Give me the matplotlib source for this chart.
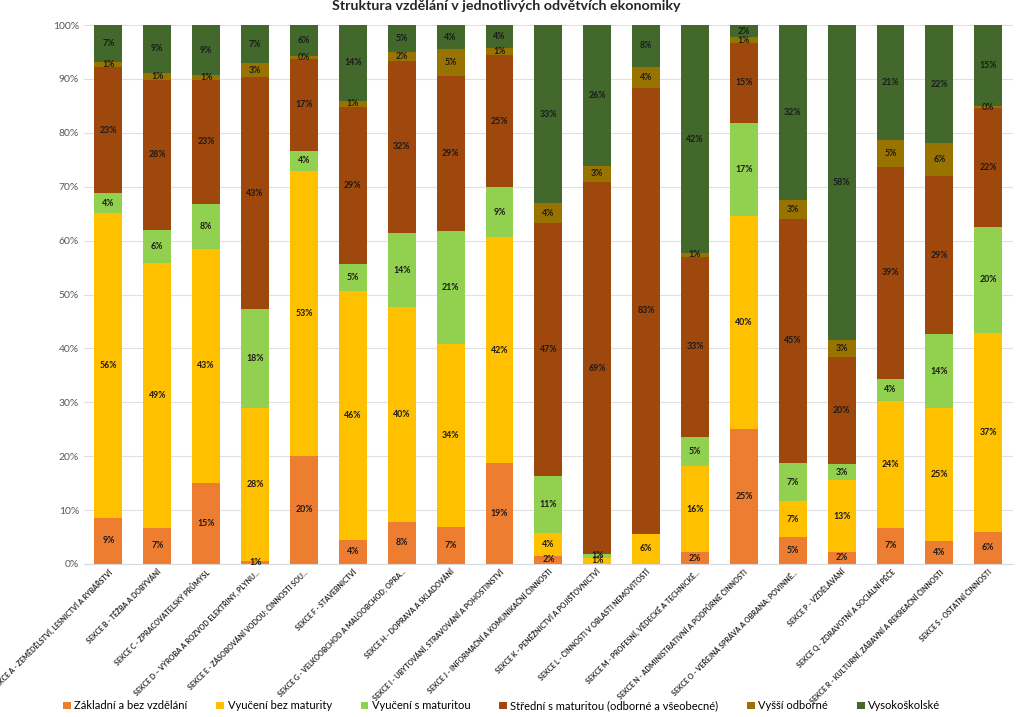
import matplotlib
matplotlib.use('Agg')
import matplotlib.pyplot as plt
import numpy as np

sekce = [
    'SEKCE A - ZEMĚDĚLSTVÍ, LESNICTVÍ A RYBÁŘSTVÍ',
    'SEKCE B - TĚŽBA A DOBÝVÁNÍ',
    'SEKCE C - ZPRACOVATELSKÝ PRŮMYSL',
    'SEKCE D – VÝROBA A ROZVOD ELEKTŘINY, PLYNU...',
    'SEKCE E - ZÁSOBOVÁNÍ VODOU; ČINNOSTI SOU...',
    'SEKCE F - STAVEBNICTVÍ',
    'SEKCE G - VELKOOBCHOD A MALOOBCHOD; OPRA...',
    'SEKCE H - DOPRAVA A SKLADOVÁNÍ',
    'SEKCE I - UBYTOVÁNÍ, STRAVOVÁNÍ A POHOSTINSTVÍ',
    'SEKCE J - INFORMAČNÍ A KOMUNIKAČNÍ ČINNOSTI',
    'SEKCE K - PENĚŽNICTVÍ A POJIŠŤOVNICTVÍ',
    'SEKCE L - ČINNOSTI V OBLASTI NEMOVITOSTÍ',
    'SEKCE M - PROFESNÍ, VĚDECKÉ A TECHNICKÉ...',
    'SEKCE N - ADMINISTRATIVNÍ A PODPŮRNÉ ČINNOSTI',
    'SEKCE O - VEŘEJNÁ SPRÁVA A OBRANA; POVINNÉ...',
    'SEKCE P - VZDĚLÁVÁNÍ',
    'SEKCE Q - ZDRAVOTNÍ A SOCIÁLNÍ PÉČE',
    'SEKCE R - KULTURNÍ, ZÁBAVNÍ A REKREAČNÍ ČINNOSTI',
    'SEKCE S - OSTATNÍ ČINNOSTI',
]

zakladni = [8.6, 6.7, 15.1, 0.6, 20.1, 4.5, 7.8, 6.9, 18.8, 1.5, 0.0, 0.0, 2.2, 25.0, 5.0, 2.3, 6.7, 4.3, 6.0]
vyuceni_bez = [56.5, 49.1, 43.3, 28.4, 52.9, 46.1, 39.9, 34.0, 41.8, 4.2, 1.2, 5.6, 16.0, 39.6, 6.6, 13.2, 23.6, 24.6, 36.8]
vyuceni_s = [3.7, 6.2, 8.4, 18.3, 3.6, 5.1, 13.7, 20.9, 9.3, 10.7, 0.6, 0.0, 5.4, 17.3, 7.1, 3.0, 4.0, 13.7, 19.8]
stredni = [23.4, 27.9, 23.1, 43.0, 17.2, 29.1, 32.0, 28.7, 24.6, 46.9, 69.1, 82.8, 33.4, 14.8, 45.4, 20.0, 39.4, 29.4, 22.1]
vyssi = [0.9, 1.3, 0.8, 2.6, 0.4, 1.2, 1.6, 5.0, 1.3, 3.6, 3.0, 3.9, 0.7, 1.0, 3.4, 3.1, 5.0, 6.1, 0.2]
vysokoskolske = [6.9, 8.8, 9.3, 7.1, 5.8, 14.0, 5.0, 4.5, 4.2, 33.1, 26.1, 7.7, 42.3, 2.3, 32.5, 58.4, 21.3, 21.9, 15.1]

serie = ['Základní a bez vzdělání', 'Vyučení bez maturity', 'Vyučení s maturitou',
         'Střední s maturitou (odborné a všeobecné)', 'Vyšší odborné', 'Vysokoškolské']
hodnoty = [zakladni, vyuceni_bez, vyuceni_s, stredni, vyssi, vysokoskolske]
barvy = ['#ED7D31', '#FFC000', '#92D050', '#9E480E', '#997300', '#43682B']

plt.rcParams['font.family'] = ['Lato', 'DejaVu Sans']

fig = plt.figure(figsize=(10.24, 7.17), dpi=100)
ax = fig.add_axes([0.082, 0.2134, 0.907, 0.7516])

x = np.arange(len(sekce))
dole = np.zeros(len(sekce))
for nazev, val, c in zip(serie, hodnoty, barvy):
    val = np.array(val)
    ax.bar(x, val, bottom=dole, width=0.57, color=c, label=nazev, zorder=2)
    for xi, b, v in zip(x, dole, val):
        if v > 0:
            ax.text(xi, b + v / 2, '%d%%' % round(v), ha='center', va='center',
                    fontsize=6.3, fontweight='bold', color='#1a1a1a', zorder=3)
    dole += val

ax.set_xlim(-0.5, len(sekce) - 0.5)
ax.set_ylim(0, 100)
ax.set_yticks(range(0, 101, 10))
ax.set_yticklabels(['%d%%' % t for t in range(0, 101, 10)], fontsize=7.5, color='#595959')
ax.yaxis.grid(True, color='#E0E0E0', linewidth=0.8, zorder=0)
ax.tick_params(axis='both', length=0)
ax.tick_params(axis='x', pad=3)
ax.set_xticks(x)
ax.set_xticklabels(sekce, rotation=45, ha='right', rotation_mode='anchor',
                   fontsize=5.0, fontweight='bold', color='#262626')
for s in ['top', 'right', 'left']:
    ax.spines[s].set_visible(False)
ax.spines['bottom'].set_color('#D9D9D9')

fig.text(0.494, 1 - 6 / 717, 'Struktura vzdělání v jednotlivých odvětvích ekonomiky',
         ha='center', va='center', fontsize=10.3, fontweight='bold', color='#262626')

fig.legend(loc='lower left', bbox_to_anchor=(0.052, -0.006), ncol=6, frameon=False,
           prop={'size': 8.0}, handlelength=0.7, handleheight=0.7, handletextpad=0.3,
           columnspacing=2.6)

fig.savefig('out.png', dpi=100)
